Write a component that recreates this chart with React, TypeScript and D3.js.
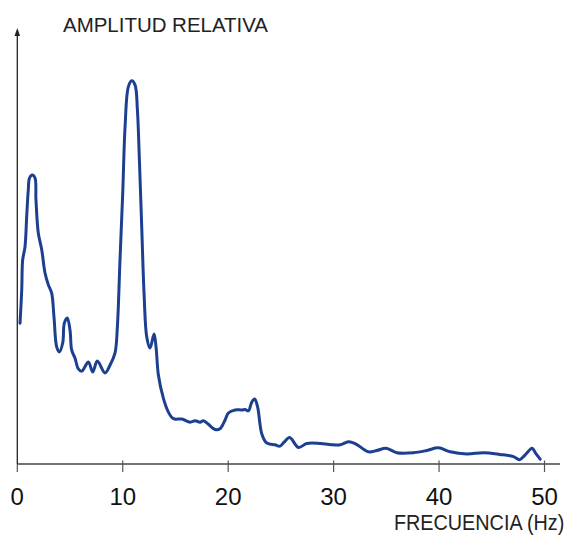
import React from "react";
import * as d3 from "d3";

// frequency (Hz) and relative amplitude (0-100)
const freq = [
	0.26, 0.42, 0.51, 0.73, 0.89, 1.04, 1.16, 1.42, 1.68, 1.77,
	1.99, 2.32, 2.63, 2.94, 3.26, 3.48, 3.74, 3.99, 4.31, 4.46,
	4.74, 5.0, 5.16, 5.47, 5.79, 6.11, 6.74, 7.15, 7.59, 8.32,
	8.8, 9.27, 9.49, 9.74, 10.0, 10.22, 10.53, 10.85, 11.17, 11.39,
	11.58, 11.8, 12.02, 12.28, 12.59, 12.97, 13.16, 13.38, 13.85, 14.33,
	14.8, 15.6, 16.39, 16.86, 17.33, 17.65, 18.12, 18.76, 19.23, 19.71,
	20.02, 20.66, 21.29, 21.6, 21.92, 22.24, 22.51, 22.79, 23.19, 23.66,
	24.45, 24.92, 25.3, 25.83, 26.66, 27.46, 28.72, 29.98, 30.62, 31.4,
	32.04, 33.3, 34.1, 34.98, 36.0, 37.57, 38.84, 39.94, 41.05, 42.64,
	44.21, 45.77, 47.06, 47.63, 48.17, 48.83, 49.12, 49.59,
];
const amp = [
	32.3, 39.9, 46.8, 49.8, 56.7, 62.8, 65.6, 66.3, 65.6, 60.6,
	53.0, 49.1, 43.8, 41.1, 39.2, 33.7, 26.8, 25.7, 27.8, 32.3,
	33.5, 30.7, 26.1, 24.3, 21.8, 21.3, 23.4, 21.1, 23.6, 20.9,
	22.7, 25.5, 31.4, 46.8, 62.2, 77.3, 86.5, 87.9, 86.9, 81.2,
	69.7, 54.4, 39.2, 29.1, 26.6, 29.8, 26.8, 20.4, 15.1, 11.9,
	10.4, 10.3, 9.6, 9.9, 9.6, 9.9, 9.1, 7.9, 8.1, 10.1,
	11.7, 12.4, 12.4, 12.5, 12.2, 14.2, 14.9, 13.1, 6.9, 4.8,
	4.4, 4.1, 5.0, 6.1, 3.8, 4.7, 4.7, 4.4, 4.4, 5.1,
	4.7, 2.8, 3.1, 3.6, 2.6, 2.6, 3.1, 3.7, 2.8, 2.3,
	2.6, 2.2, 1.7, 1.0, 2.1, 3.6, 2.6, 1.1,
];
const xTicks = [0, 10, 20, 30, 40, 50];
const yTitle = "AMPLITUD RELATIVA";
const xTitle = "FRECUENCIA (Hz)";

const W = 572;
const H = 537;

const App = () => {
	const x = d3.scaleLinear().domain([0, 50]).range([17.3, 544.5]);
	const y = d3.scaleLinear().domain([0, 100]).range([464, 28]);

	const points = freq.map((f, i) => [f, amp[i]] as [number, number]);
	const line = d3
		.line<[number, number]>()
		.x((d) => x(d[0]))
		.y((d) => y(d[1]))
		.curve(d3.curveCatmullRom.alpha(0.5));

	const x0 = x(0);
	const yBase = y(0);
	const yTop = y(100);

	return (
		<svg
			width={W}
			height={H}
			style={{ position: "absolute", left: 0, top: 0, background: "#fff" }}
			fontFamily="'Liberation Sans', Arial, sans-serif"
		>
			{/* y axis with arrow */}
			<line x1={x0} x2={x0} y1={yTop + 4} y2={yBase} stroke="#222" strokeWidth={1.3} />
			<path
				d={`M${x0},${yTop} L${x0 - 2.8},${yTop + 8} L${x0 + 2.8},${yTop + 8} Z`}
				fill="#222"
			/>
			<text x={63} y={31.5} fontSize={21} fill="#222" textLength={205} lengthAdjust="spacingAndGlyphs">
				{yTitle}
			</text>

			{/* x axis */}
			<line x1={x0} x2={560} y1={yBase} y2={yBase} stroke="#444" strokeWidth={1.3} />
			{xTicks.map((t) => (
				<g key={t}>
					<line
						x1={x(t)}
						x2={x(t)}
						y1={t === 0 ? yBase : yBase - 3.5}
						y2={yBase + 8}
						stroke="#555"
						strokeWidth={1.2}
					/>
					<text x={x(t)} y={505} fontSize={24} textAnchor="middle" fill="#111">
						{t}
					</text>
				</g>
			))}
			{/* condensed axis title, as in the original */}
			<text transform="translate(394,530) scale(0.9,1)" fontSize={22} fill="#222">
				{xTitle}
			</text>

			<path d={line(points) || ""} fill="none" stroke="#1d3f8f" strokeWidth={3} strokeLinejoin="round" strokeLinecap="round" />
		</svg>
	);
};

export default App;
